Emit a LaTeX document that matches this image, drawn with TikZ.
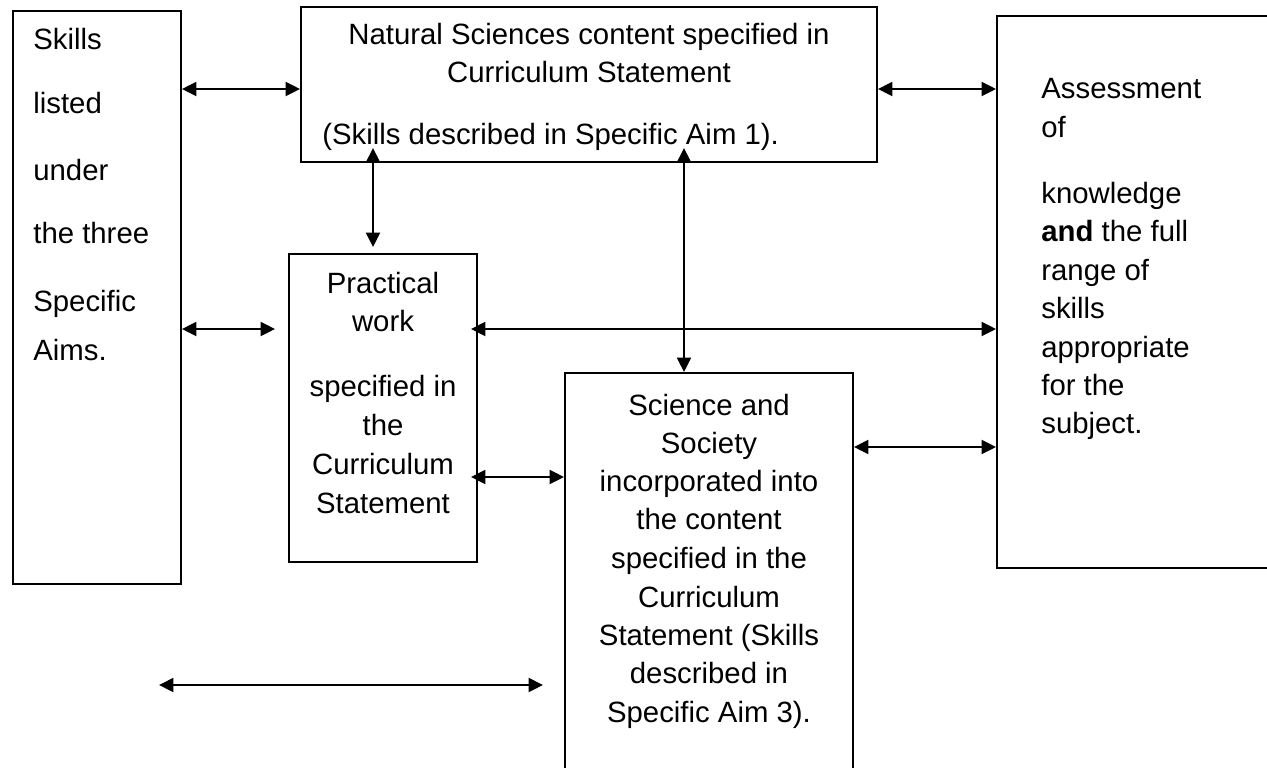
\documentclass[tikz,border=0pt]{standalone}
\usepackage{fontspec}
\setmainfont{Liberation Sans}
\usetikzlibrary{arrows.meta, fit}

\tikzset{
  box/.style={draw, line width=1.1pt, inner sep=0pt},
  txt/.style={inner sep=0pt, font=\fontsize{16.7}{21.6}\selectfont},
  link/.style={line width=1.2pt,
    {Triangle[length=0.29cm,width=0.28cm]}-{Triangle[length=0.29cm,width=0.28cm]}}
}

\begin{document}
\begin{tikzpicture}[x=0.02cm, y=-0.02cm]
  \path[use as bounding box, clip] (0,0) rectangle (1267,767);
  \fill[white] (0,0) rectangle (1267,767);
  % Boxes
  \node[box, fit={(13,11) (181,584)}] (skills) {};
  \node[box, fit={(301,7) (877,162)}] (content) {};
  \node[box, fit={(997,16) (1300,568)}] (assess) {};
  \node[box, fit={(289,254) (477,562)}] (practical) {};
  \node[box, fit={(565,373) (853,800)}] (society) {};
  % Texts
  \foreach \yb/\ln [count=\i] in {50/Skills, 113/listed, 180/under,
      243/the three, 311/Specific, 360/Aims.}{
    \node[txt, anchor=base west] (skl\i) at (33,\yb) {\ln};
  }
  \node[txt, anchor=base] (nsc1) at (589,45) {Natural Sciences content specified in};
  \node[txt, anchor=base] (nsc2) at (589,83) {Curriculum Statement};
  \node[txt, anchor=base west] (nsc3) at (322,144) {(Skills described in Specific Aim 1).};
  \foreach \yb/\ln [count=\i] in {98/Assessment, 137/of, 203/knowledge,
      241/{\textbf{and} the full}, 280/range of, 318/skills,
      357/appropriate, 395/for the, 433/subject.}{
    \node[txt, anchor=base west] (asm\i) at (1041,\yb) {\ln};
  }
  \foreach \yb/\ln [count=\i] in {293/Practical, 331/work, 396/specified in,
      435/the, 474/Curriculum, 513/Statement}{
    \node[txt, anchor=base] (prw\i) at (383,\yb) {\ln};
  }
  \foreach \yb/\ln [count=\i] in {415/Science and, 453/Society,
      491/incorporated into, 529/the content, 568/specified in the,
      607/Curriculum, 645/Statement (Skills, 683/described in,
      722/Specific Aim 3).}{
    \node[txt, anchor=base] (sas\i) at (709,\yb) {\ln};
  }
  % Connectors
  \coordinate (up1) at (373,148);
  \coordinate (up2) at (684,148);
  \coordinate (bl) at (159,685);
  \coordinate (br) at (543,685);
  \draw[link] (skills.east |- 0,89) -- (content.west |- 0,89);
  \draw[link] (content.east |- 0,89) -- (assess.west |- 0,89);
  \draw[link, shorten >=0.12cm] (up1) -- (up1 |- practical.north);
  \draw[link] (up2) -- (up2 |- society.north);
  \draw[link, shorten >=0.26cm] (skills.east |- 0,329) -- (practical.west |- 0,329);
  \draw[link, shorten <=-0.14cm] (practical.east |- 0,329) -- (assess.west |- 0,329);
  \draw[link, shorten <=-0.14cm] (practical.east |- 0,477) -- (society.west |- 0,477);
  \draw[link] (society.east |- 0,447) -- (assess.west |- 0,447);
  \draw[link] (bl) -- (br);
\end{tikzpicture}
\end{document}
